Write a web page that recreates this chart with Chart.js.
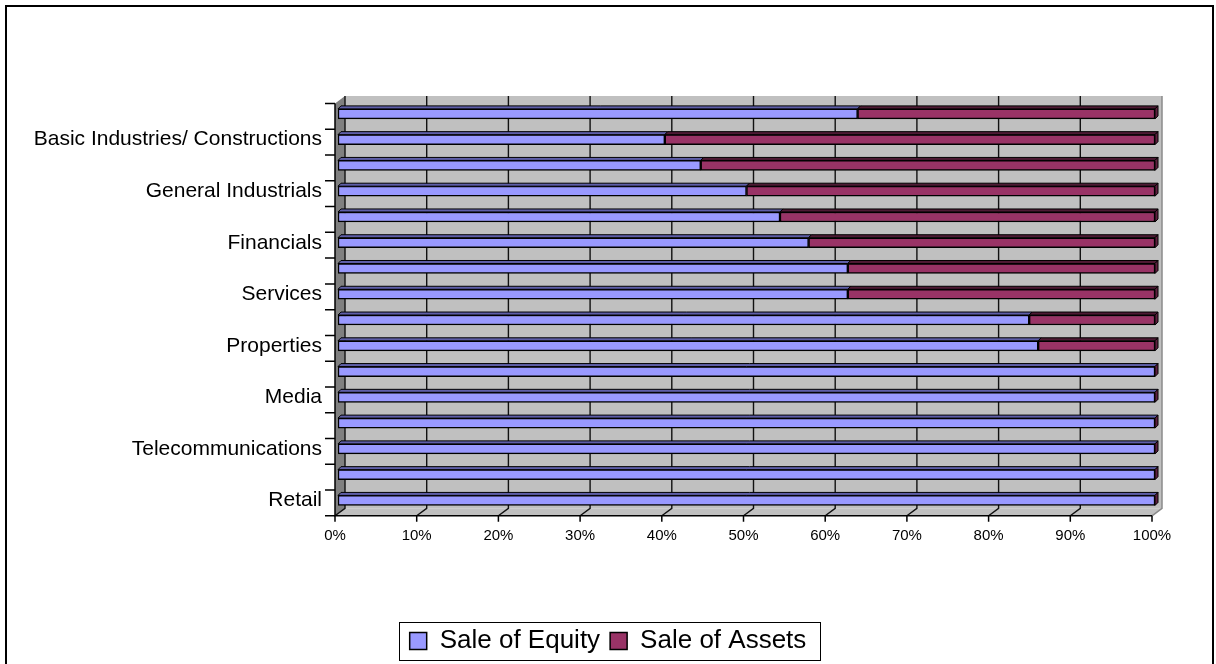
<!DOCTYPE html>
<html>
<head>
<meta charset="utf-8">
<script src="https://cdn.jsdelivr.net/npm/chart.js@4.4.1/dist/chart.umd.min.js"></script>
<style>
  html, body { margin: 0; padding: 0; background: #fff; }
  #wrap { position: relative; width: 1216px; height: 664px; }
  canvas { display: block; }
</style>
</head>
<body>
<div id="wrap"><canvas id="c" width="1216" height="664"></canvas></div>
<script>
// ---- data (top of file) ----
const categories = [
  '', 'Basic Industries/ Constructions',
  '', 'General Industrials',
  '', 'Financials',
  '', 'Services',
  '', 'Properties',
  '', 'Media',
  '', 'Telecommunications',
  '', 'Retail'
];
const saleOfEquity = [63.6, 40.0, 44.4, 50.0, 54.1, 57.6, 62.4, 62.4, 84.6, 85.7, 100, 100, 100, 100, 100, 100];
const saleOfAssets = [36.4, 60.0, 55.6, 50.0, 45.9, 42.4, 37.6, 37.6, 15.4, 14.3, 0, 0, 0, 0, 0, 0];
const xTickValues = [0, 10, 20, 30, 40, 50, 60, 70, 80, 90, 100];
const seriesNames = ['Sale of Equity', 'Sale of Assets'];

// ---- styles ----
const COLORS = {
  equity: '#9999FF', equityTop: '#5E5EA8',
  assets: '#993366', assetsTop: '#4E1A34', assetsSide: '#5E1F3E',
  wall: '#C0C0C0', sideWall: '#808080'
};
const FRONT = { dx: -3, dy: 2.5 };
const BACK = { dx: 7, dy: -5 };
const DEPTH = 3;

Chart.defaults.font.family = 'Arial, "Liberation Sans", sans-serif';
Chart.defaults.color = '#000';

function poly(ctx, pts, fill, stroke, lw) {
  ctx.beginPath();
  ctx.moveTo(pts[0][0], pts[0][1]);
  for (let i = 1; i < pts.length; i++) ctx.lineTo(pts[i][0], pts[i][1]);
  ctx.closePath();
  if (fill) { ctx.fillStyle = fill; ctx.fill(); }
  if (stroke) { ctx.strokeStyle = stroke; ctx.lineWidth = lw || 1; ctx.stroke(); }
}

const scene3d = {
  id: 'scene3d',
  beforeDraw(chart) {
    const ctx = chart.ctx;
    ctx.save();
    ctx.fillStyle = '#fff';
    ctx.fillRect(0, 0, chart.width, chart.height);
    ctx.strokeStyle = '#000';
    ctx.lineWidth = 2;
    ctx.strokeRect(6, 6, 1207, 700);
    ctx.restore();
  },
  beforeDatasetsDraw(chart) {
    const ctx = chart.ctx, xs = chart.scales.x, a = chart.chartArea;
    const x0 = xs.getPixelForValue(0), x1 = xs.getPixelForValue(100);
    const top = a.top, bot = a.bottom;
    ctx.save();
    // back wall
    poly(ctx, [[x0 + BACK.dx, top + BACK.dy], [x1 + BACK.dx, top + BACK.dy],
               [x1 + BACK.dx, bot + BACK.dy], [x0 + BACK.dx, bot + BACK.dy]], COLORS.wall);
    // floor
    poly(ctx, [[x0 + FRONT.dx, bot + FRONT.dy], [x0 + BACK.dx, bot + BACK.dy],
               [x1 + BACK.dx, bot + BACK.dy], [x1 + FRONT.dx, bot + FRONT.dy]], COLORS.wall);
    // left side wall
    poly(ctx, [[x0 + FRONT.dx, top + FRONT.dy], [x0 + BACK.dx, top + BACK.dy],
               [x0 + BACK.dx, bot + BACK.dy], [x0 + FRONT.dx, bot + FRONT.dy]], COLORS.sideWall);
    // grid lines on back wall & floor
    xTickValues.forEach(v => {
      const x = xs.getPixelForValue(v);
      ctx.beginPath();
      ctx.moveTo(x + BACK.dx, top + BACK.dy);
      ctx.lineTo(x + BACK.dx, bot + BACK.dy);
      ctx.lineTo(x + FRONT.dx, bot + FRONT.dy);
      ctx.strokeStyle = v === 100 ? '#8a8a8a' : '#111';
      ctx.lineWidth = v === 100 ? 1.5 : 1.4;
      ctx.stroke();
    });
    ctx.restore();
  },
  afterDatasetsDraw(chart) {
    const ctx = chart.ctx, xs = chart.scales.x, a = chart.chartArea;
    ctx.save();
    const topCols = [COLORS.equityTop, COLORS.assetsTop];
    chart.data.datasets.forEach((ds, di) => {
      const meta = chart.getDatasetMeta(di);
      meta.data.forEach((bar) => {
        const p = bar.getProps(['x', 'y', 'base', 'height'], true);
        const l = Math.min(p.x, p.base), r = Math.max(p.x, p.base);
        const t = p.y - p.height / 2, b = p.y + p.height / 2;
        if (r - l > 0.5) {
          poly(ctx, [[l, t], [l + DEPTH, t - DEPTH], [r + DEPTH, t - DEPTH], [r, t]], topCols[di], '#000', 1);
        }
        if (di === chart.data.datasets.length - 1) {
          poly(ctx, [[r, t], [r + DEPTH, t - DEPTH], [r + DEPTH, b - DEPTH], [r, b]], COLORS.assetsSide, '#000', 1);
        }
      });
    });
    // front axes
    const x0 = xs.getPixelForValue(0), x1 = xs.getPixelForValue(100);
    const top = a.top, bot = a.bottom;
    ctx.strokeStyle = '#000';
    ctx.lineWidth = 1.5;
    ctx.beginPath();
    ctx.moveTo(x0 + FRONT.dx, top + FRONT.dy);
    ctx.lineTo(x0 + FRONT.dx, bot + FRONT.dy);
    ctx.lineTo(x1 + FRONT.dx, bot + FRONT.dy);
    ctx.stroke();
    const n = chart.data.labels.length;
    const step = (bot - top) / n;
    ctx.beginPath();
    for (let k = 0; k <= n; k++) {
      const y = top + k * step + FRONT.dy;
      ctx.moveTo(x0 + FRONT.dx - 10, y);
      ctx.lineTo(x0 + FRONT.dx, y);
    }
    xTickValues.forEach(v => {
      const x = xs.getPixelForValue(v) + FRONT.dx;
      ctx.moveTo(x, bot + FRONT.dy);
      ctx.lineTo(x, bot + FRONT.dy + 6);
    });
    ctx.stroke();
    ctx.restore();
  },
  afterDraw(chart) {
    const lg = chart.legend;
    if (!lg || !lg.legendHitBoxes || !lg.legendHitBoxes.length) return;
    const hb = lg.legendHitBoxes, last = hb[hb.length - 1];
    const ctx = chart.ctx;
    ctx.save();
    ctx.strokeStyle = '#000';
    ctx.lineWidth = 1;
    const L = Math.round(hb[0].left - 11) + 0.5;
    const R = Math.round(last.left + last.width + 14) + 0.5;
    const T = Math.round(hb[0].top - 6) + 0.5;
    const B = Math.round(hb[0].top + hb[0].height + 6) + 0.5;
    ctx.strokeRect(L, T, R - L, B - T);
    ctx.restore();
  }
};

new Chart(document.getElementById('c'), {
  type: 'bar',
  data: {
    labels: categories,
    datasets: [
      { label: seriesNames[0], data: saleOfEquity, backgroundColor: COLORS.equity,
        borderColor: '#000', borderWidth: 1.5, borderSkipped: false, barThickness: 10 },
      { label: seriesNames[1], data: saleOfAssets, backgroundColor: COLORS.assets,
        borderColor: '#000', borderWidth: 1.5, borderSkipped: false, barThickness: 10 }
    ]
  },
  options: {
    indexAxis: 'y',
    responsive: false,
    animation: false,
    devicePixelRatio: 1,
    layout: { padding: { top: 101, left: 0, right: 0, bottom: 0 } },
    scales: {
      x: {
        stacked: true, min: 0, max: 100,
        grid: { display: false, drawTicks: false },
        border: { display: false },
        afterBuildTicks: s => { s.ticks = xTickValues.map(v => ({ value: v })); },
        ticks: { callback: v => v + '%', font: { size: 15 }, color: '#000', padding: 14,
                 maxRotation: 0, autoSkip: false, labelOffset: -3 },
        afterFit: s => { s.height = 104.7; }
      },
      y: {
        stacked: true,
        grid: { display: false, drawTicks: false },
        border: { display: false },
        ticks: { font: { size: 21 }, color: '#000', padding: 16, autoSkip: false },
        afterFit: s => { s.width = 338; }
      },
      yRight: {
        type: 'category',
        position: 'right',
        grid: { display: false, drawTicks: false },
        border: { display: false },
        ticks: { display: false },
        afterFit: s => { s.width = 61; }
      }
    },
    plugins: {
      legend: {
        position: 'bottom',
        labels: { boxWidth: 17, boxHeight: 17, font: { size: 26 }, color: '#000', padding: 10 }
      },
      tooltip: { enabled: false },
      title: { display: false }
    }
  },
  plugins: [scene3d]
});
</script>
</body>
</html>
